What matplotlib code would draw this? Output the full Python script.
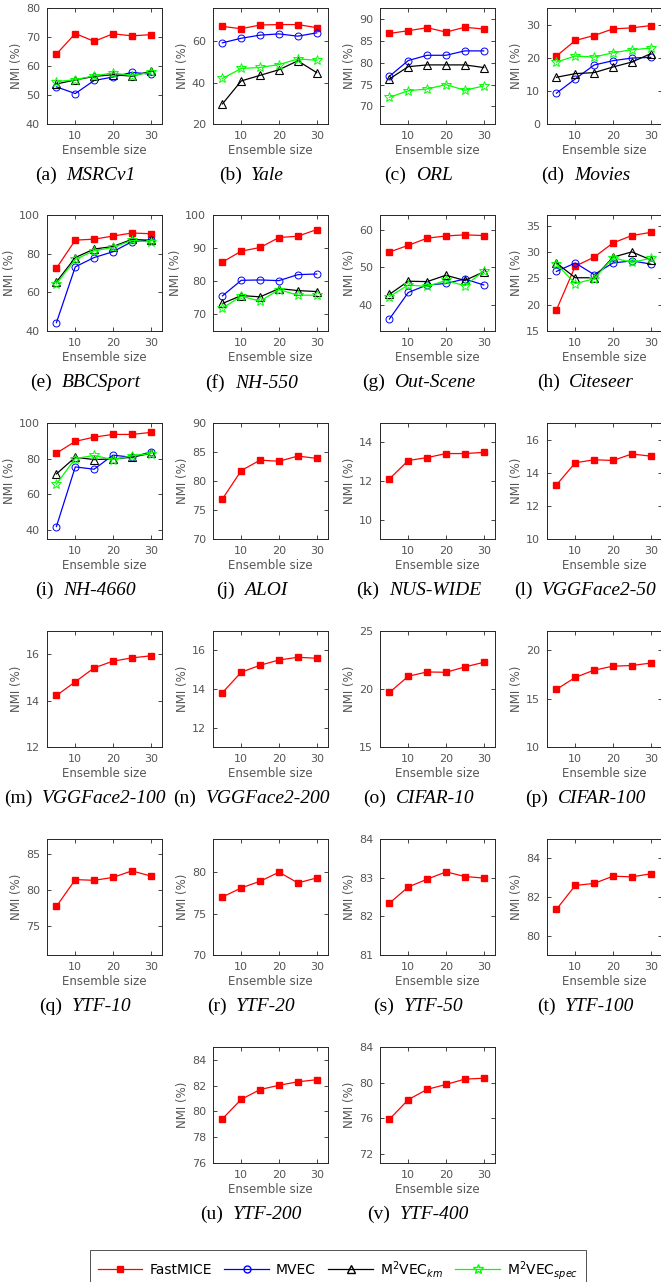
import matplotlib
matplotlib.use("Agg")
import matplotlib.pyplot as plt
from matplotlib.offsetbox import TextArea, HPacker, AnnotationBbox
from matplotlib.lines import Line2D

# ensemble sizes on the x-axis
sizes = [5, 10, 15, 20, 25, 30]

# panel letters and dataset names
letters = list("abcdefghijklmnopqrstuv")
names = ["MSRCv1", "Yale", "ORL", "Movies", "BBCSport", "NH-550", "Out-Scene",
         "Citeseer", "NH-4660", "ALOI", "NUS-WIDE", "VGGFace2-50", "VGGFace2-100",
         "VGGFace2-200", "CIFAR-10", "CIFAR-100", "YTF-10", "YTF-20", "YTF-50",
         "YTF-100", "YTF-200", "YTF-400"]

# NMI (%) of FastMICE on each dataset
fastmice = [
    [64.1, 71.2, 68.5, 71.1, 70.4, 70.8],
    [67.1, 66.0, 67.8, 68.0, 68.0, 66.5],
    [86.7, 87.3, 88.0, 87.0, 88.1, 87.7],
    [20.5, 25.2, 26.7, 28.7, 29.0, 29.7],
    [72.5, 87.0, 87.5, 89.1, 90.7, 90.3],
    [85.8, 89.1, 90.2, 93.2, 93.6, 95.6],
    [54.1, 55.9, 57.8, 58.4, 58.7, 58.5],
    [19.0, 27.3, 29.0, 31.7, 33.1, 33.7],
    [83.1, 89.7, 92.1, 93.6, 93.6, 94.7],
    [76.9, 81.8, 83.6, 83.4, 84.3, 83.9],
    [12.11, 13.06, 13.21, 13.42, 13.42, 13.48],
    [13.26, 14.60, 14.78, 14.74, 15.13, 15.00],
    [14.22, 14.81, 15.41, 15.70, 15.84, 15.93],
    [13.81, 14.87, 15.23, 15.50, 15.64, 15.59],
    [19.70, 21.10, 21.47, 21.44, 21.90, 22.30],
    [15.96, 17.20, 17.95, 18.36, 18.43, 18.68],
    [77.7, 81.4, 81.3, 81.7, 82.6, 81.9],
    [77.0, 78.1, 78.9, 80.0, 78.7, 79.3],
    [82.34, 82.76, 82.96, 83.15, 83.03, 82.99],
    [81.36, 82.60, 82.70, 83.08, 83.04, 83.20],
    [79.43, 80.94, 81.70, 82.03, 82.30, 82.46],
    [75.9, 78.1, 79.25, 79.8, 80.4, 80.5],
]

# baselines only exist for the first nine datasets
mvec = [
    [52.8, 50.5, 55.0, 56.2, 57.8, 57.2],
    [59.2, 61.4, 62.9, 63.5, 62.4, 64.0],
    [76.9, 80.5, 81.7, 81.7, 82.7, 82.7],
    [9.3, 13.6, 17.8, 19.1, 19.9, 20.1],
    [44.3, 73.2, 78.0, 81.0, 86.2, 87.0],
    [75.6, 80.3, 80.4, 80.2, 82.0, 82.2],
    [36.2, 43.3, 45.3, 45.7, 46.9, 45.3],
    [26.3, 27.9, 25.7, 27.9, 28.3, 27.7],
    [42.0, 75.4, 74.1, 82.0, 80.8, 83.8],
]
m2vec_km = [
    [53.8, 55.2, 56.4, 57.0, 56.5, 58.2],
    [29.7, 40.8, 43.5, 46.2, 50.5, 44.8],
    [76.3, 79.1, 79.5, 79.5, 79.5, 78.9],
    [14.1, 15.2, 15.5, 17.2, 18.7, 21.2],
    [65.4, 78.0, 82.4, 83.7, 87.4, 86.9],
    [73.3, 75.7, 75.3, 77.8, 77.2, 76.9],
    [42.8, 46.3, 46.2, 47.9, 46.5, 48.8],
    [27.9, 25.1, 25.1, 29.0, 30.0, 28.5],
    [71.5, 80.8, 79.5, 79.9, 80.8, 83.0],
]
m2vec_spec = [
    [54.6, 55.3, 56.6, 57.6, 56.7, 57.8],
    [42.0, 46.8, 47.3, 48.7, 51.4, 50.8],
    [72.1, 73.6, 74.0, 75.0, 73.7, 74.7],
    [18.7, 20.5, 20.2, 21.5, 22.4, 22.9],
    [64.4, 77.0, 81.5, 83.2, 86.9, 86.0],
    [71.9, 75.5, 74.0, 77.5, 75.8, 75.8],
    [42.2, 45.3, 44.9, 46.5, 45.1, 49.0],
    [27.7, 24.0, 24.9, 28.9, 28.0, 28.8],
    [65.8, 80.1, 81.8, 79.5, 81.6, 82.9],
]

# y ranges and y ticks of each panel
ylims = [(40, 80), (20, 76), (66, 92.5), (0, 35), (40, 100), (65, 100), (33, 64),
         (15, 37), (35, 100), (70, 90), (9, 15), (10, 17), (12, 17), (11, 17),
         (15, 25), (10, 22), (71, 87), (70, 84), (81, 84), (79, 85), (76, 85), (71, 84)]
yticks = [[40, 50, 60, 70, 80], [20, 40, 60], [70, 75, 80, 85, 90], [0, 10, 20, 30],
          [40, 60, 80, 100], [70, 80, 90, 100], [40, 50, 60], [15, 20, 25, 30, 35],
          [40, 60, 80, 100], [70, 75, 80, 85, 90], [10, 12, 14], [10, 12, 14, 16],
          [12, 14, 16], [12, 14, 16], [15, 20, 25], [10, 15, 20], [75, 80, 85],
          [70, 75, 80], [81, 82, 83, 84], [80, 82, 84], [76, 78, 80, 82, 84],
          [72, 76, 80, 84]]

W, H = 661, 1282
fig = plt.figure(figsize=(W / 100, H / 100), dpi=100)

col_left = [47, 213, 380, 547]
row_top = [8, 215, 423, 631, 839, 1047]
aw, ah = 115, 116
txt = "#555555"
edge = "#262626"

styles = [
    dict(color="red", marker="s", ms=4, mfc="red", mec="red"),
    dict(color="blue", marker="o", ms=5, mfc="none", mec="blue"),
    dict(color="black", marker="^", ms=5.5, mfc="none", mec="black"),
    dict(color="#00ff00", marker="*", ms=7, mfc="none", mec="#00ff00"),
]

for i, name in enumerate(names):
    r, c = divmod(i, 4)
    if r == 5:
        c += 1
    x0 = col_left[c]
    y0 = row_top[r] + ah
    ax = fig.add_axes([x0 / W, 1 - y0 / H, aw / W, ah / H])

    ax.plot(sizes, fastmice[i], lw=0.9, **styles[0])
    if i < len(mvec):
        ax.plot(sizes, mvec[i], lw=0.9, mew=0.7, **styles[1])
        ax.plot(sizes, m2vec_km[i], lw=0.9, mew=0.8, **styles[2])
        ax.plot(sizes, m2vec_spec[i], lw=0.9, mew=0.7, **styles[3])

    ax.set_xlim(2.5, 33)
    ax.set_ylim(*ylims[i])
    ax.set_xticks([10, 20, 30])
    ax.set_yticks(yticks[i])
    ax.tick_params(direction="in", top=True, right=True, length=3, width=0.6,
                   labelsize=8, colors=edge, labelcolor=txt, pad=5)
    for sp in ax.spines.values():
        sp.set_color(edge)
        sp.set_linewidth(0.7)
    ax.set_xlabel("Ensemble size", fontsize=8.5, color=txt, labelpad=2)
    ax.set_ylabel("NMI (%)", fontsize=8.5, color=txt, labelpad=2)

    cap = HPacker(children=[
        TextArea("(%s)" % letters[i], textprops=dict(family="Liberation Serif", size=14, color="black")),
        TextArea(name, textprops=dict(family="Liberation Serif", style="italic", size=14, color="black")),
    ], pad=0, sep=7, align="baseline")
    ab = AnnotationBbox(cap, (0.335, -0.445), xycoords="axes fraction",
                        box_alignment=(0.5, 0.5), frameon=False)
    ax.add_artist(ab)

handles = [Line2D([], [], lw=0.9, **s) for s in styles]
labels = ["FastMICE", "MVEC", r"M$^2$VEC$_{km}$", r"M$^2$VEC$_{spec}$"]
leg = fig.legend(handles, labels, loc="center", bbox_to_anchor=(338 / W, 1 - 1270 / H),
                 ncol=4, fontsize=10, handlelength=3.2, columnspacing=0.9,
                 handletextpad=0.5, frameon=True, fancybox=False, borderpad=0.6,
                 borderaxespad=0, edgecolor=edge)
leg.get_frame().set_linewidth(0.7)

fig.savefig("out.png", dpi=100)
